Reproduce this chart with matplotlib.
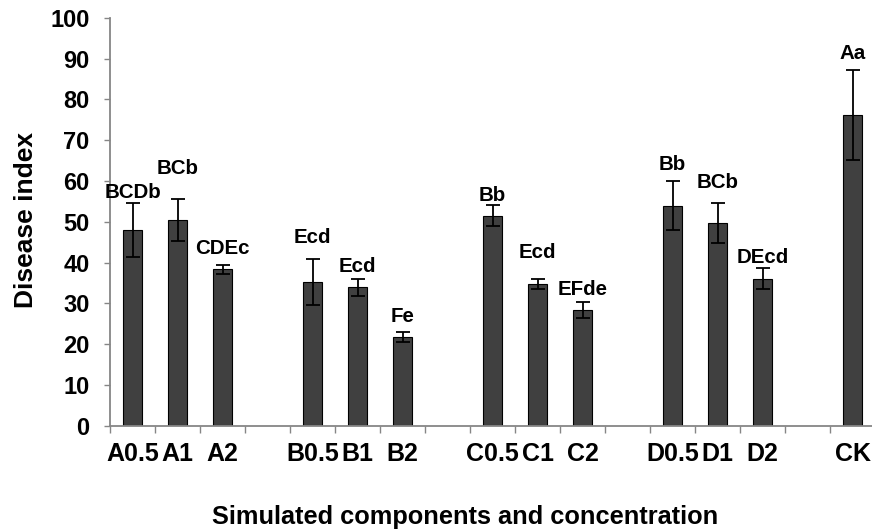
import numpy as np
import matplotlib
matplotlib.use("Agg")
import matplotlib.pyplot as plt

plt.rcParams['font.family'] = ['Liberation Sans', 'DejaVu Sans']
plt.rcParams['font.weight'] = 'bold'

# Donnees
names = ['A0.5', 'A1', 'A2', 'B0.5', 'B1', 'B2', 'C0.5', 'C1', 'C2',
         'D0.5', 'D1', 'D2', 'CK']
values = [48.0, 50.4, 38.3, 35.3, 33.9, 21.7, 51.5, 34.7, 28.4,
          53.9, 49.8, 36.0, 76.2]
errors = [6.7, 5.2, 1.1, 5.6, 2.1, 1.3, 2.5, 1.2, 1.9,
          6.0, 4.9, 2.6, 11.1]
letters = ['BCDb', 'BCb', 'CDEc', 'Ecd', 'Ecd', 'Fe', 'Bb', 'Ecd', 'EFde',
           'Bb', 'BCb', 'DEcd', 'Aa']
letter_y = [55.8, 61.8, 42.1, 44.7, 37.6, 25.5, 55.1, 41.0, 32.0,
            62.7, 58.3, 39.8, 90.0]

# une case vide entre chaque groupe
x = np.array([i + i // 3 for i in range(len(names))])
n_slots = x[-1] + 1

W, H = 872, 531
fig = plt.figure(figsize=(W / 100, H / 100), dpi=100)
ax = fig.add_axes([110 / W, 1 - 425.7 / H, 765 / W, 408 / H])

gray = '#868686'
ax.bar(x, values, width=0.42, color='#404040', edgecolor='black', linewidth=0.8, zorder=2)
ax.errorbar(x, values, yerr=errors, fmt='none', ecolor='black', elinewidth=1.3,
            capsize=5, capthick=1.3, zorder=3)

for xi, lab, ly in zip(x, letters, letter_y):
    ax.text(xi, ly, lab, ha='center', va='baseline', fontsize=14.8, fontweight='bold')

ax.set_xlim(-0.5, n_slots - 0.5)
ax.set_ylim(0, 100)
ax.set_yticks(range(0, 101, 10))
ax.tick_params(axis='y', direction='out', length=4.3, width=1, color=gray,
               labelsize=17, pad=10.5)

ax.set_xticks(x)
ax.set_xticklabels(names)
ax.set_xticks(np.arange(-0.5, n_slots, 1.0), minor=True)
ax.tick_params(axis='x', which='major', length=0, labelsize=18, pad=11.5)
ax.tick_params(axis='x', which='minor', direction='out', length=5, width=1, color=gray)
for t in ax.get_xticklabels() + ax.get_yticklabels():
    t.set_fontweight('bold')

for s in ['top', 'right']:
    ax.spines[s].set_visible(False)
for s in ['left', 'bottom']:
    ax.spines[s].set_color(gray)
    ax.spines[s].set_linewidth(1.3)

fig.text(465 / W, 1 - 524 / H, 'Simulated components and concentration',
         ha='center', va='baseline', fontsize=18.3, fontweight='bold')
fig.text(33 / W, 1 - 220 / H, 'Disease index', rotation=90, rotation_mode='anchor',
         ha='center', va='baseline', fontsize=19, fontweight='bold')

fig.savefig('out.png', dpi=100)
